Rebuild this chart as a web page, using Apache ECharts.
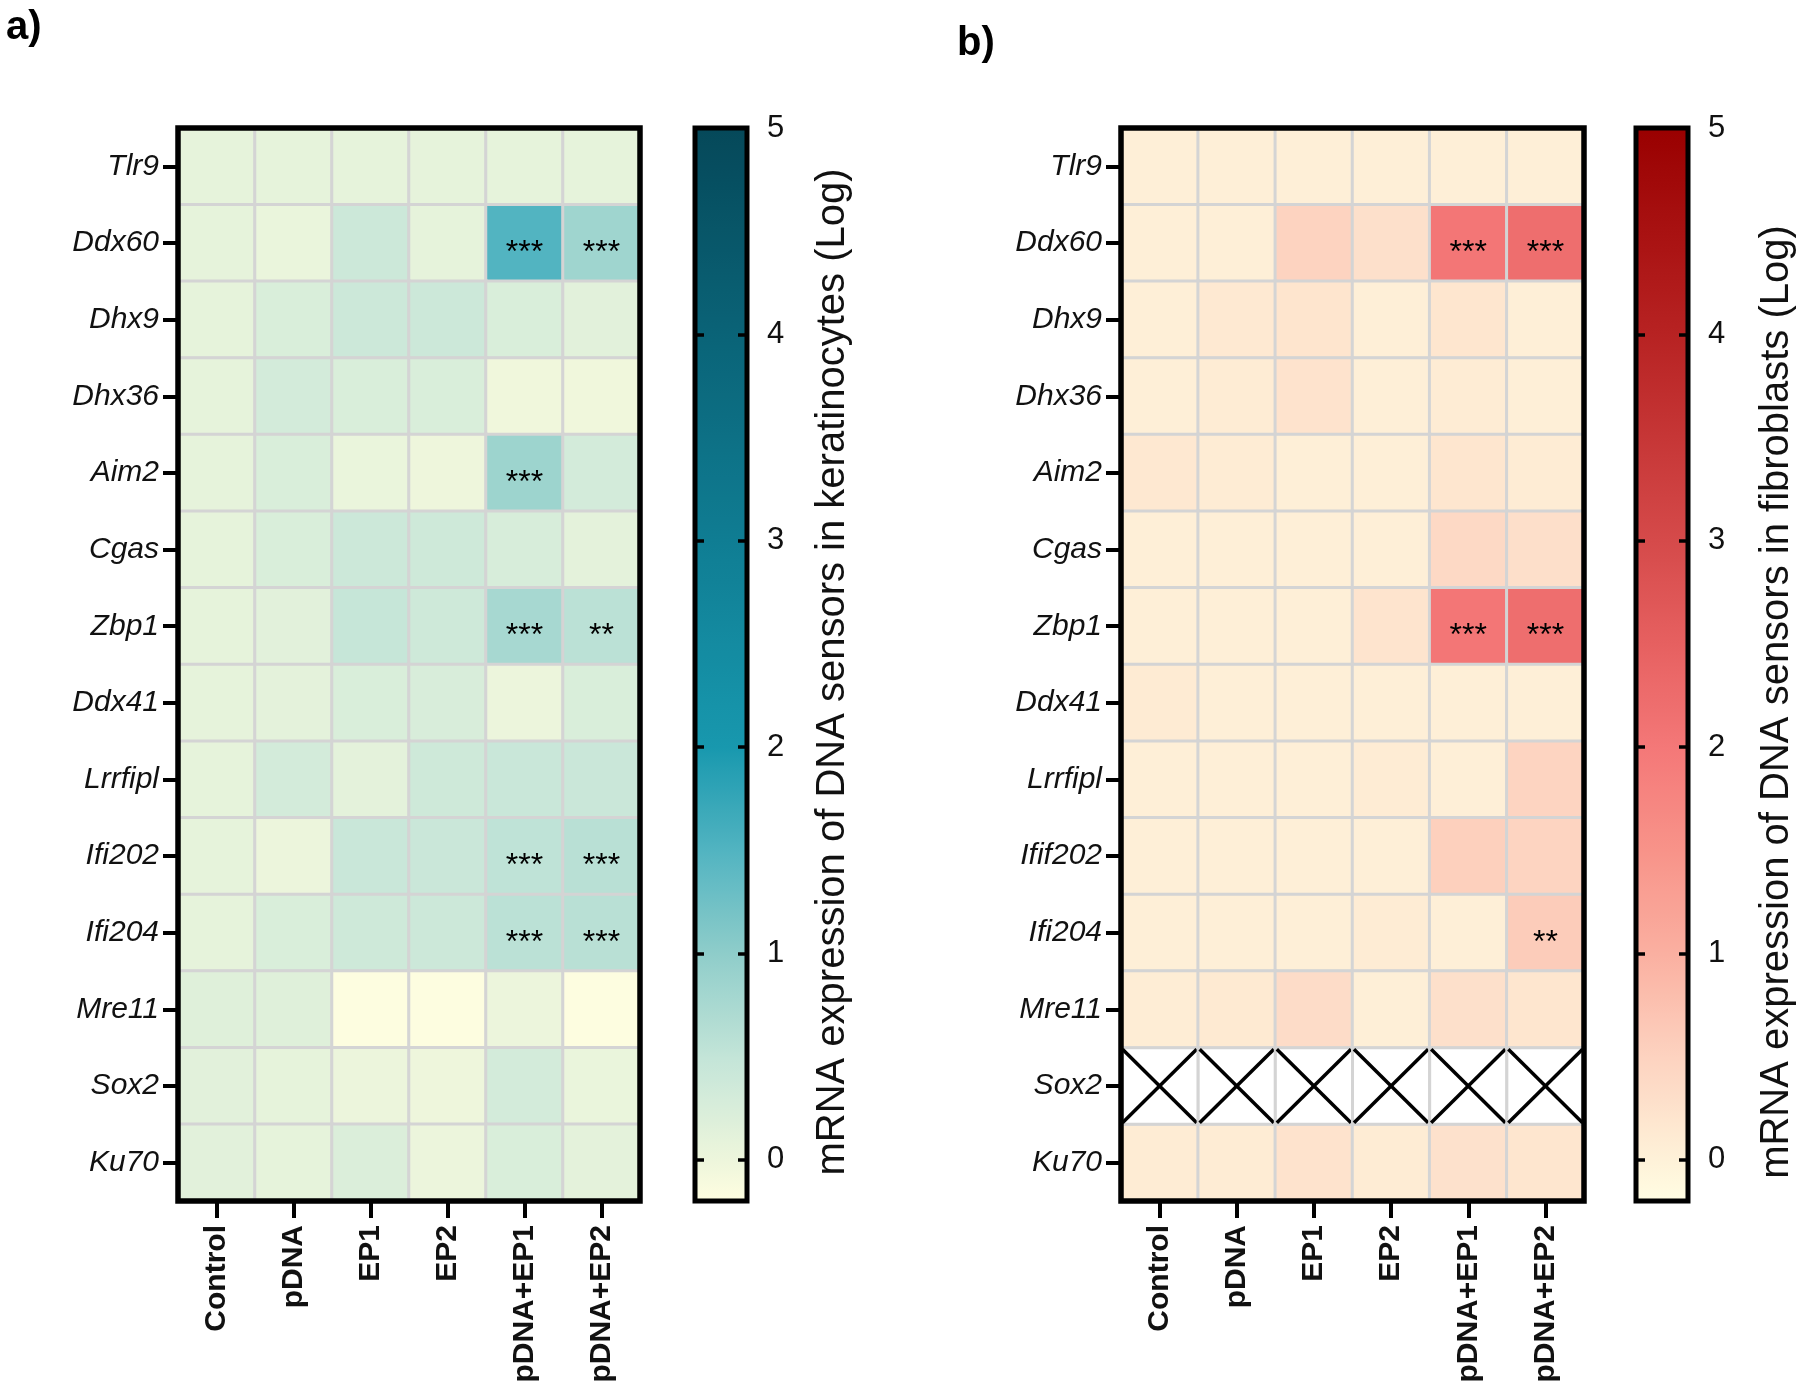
<!DOCTYPE html>
<html>
<head>
<meta charset="utf-8">
<script src="https://cdn.jsdelivr.net/npm/echarts@6/dist/echarts.min.js"></script>
<style>
  html, body { margin: 0; padding: 0; background: #fff; }
  #chart { width: 1800px; height: 1396px; }
</style>
</head>
<body>
<div id="chart"></div>
<script>
// genes (rows, top to bottom) and treatment groups (columns)
const genesA = ['Tlr9', 'Ddx60', 'Dhx9', 'Dhx36', 'Aim2', 'Cgas', 'Zbp1', 'Ddx41', 'Lrrfipl', 'Ifi202', 'Ifi204', 'Mre11', 'Sox2', 'Ku70'];
const genesB = ['Tlr9', 'Ddx60', 'Dhx9', 'Dhx36', 'Aim2', 'Cgas', 'Zbp1', 'Ddx41', 'Lrrfipl', 'Ifif202', 'Ifi204', 'Mre11', 'Sox2', 'Ku70'];
const groups = ['Control', 'pDNA', 'EP1', 'EP2', 'pDNA+EP1', 'pDNA+EP2'];

// mRNA expression (Log), one row per gene
const keratinocytes = [
  [0.1, 0.1, 0.1, 0.1, 0.1, 0.1],
  [0.1, 0.05, 0.4, 0.1, 1.5, 0.85],
  [0.1, 0.25, 0.4, 0.4, 0.25, 0.15],
  [0.1, 0.32, 0.25, 0.25, -0.02, -0.02],
  [0.1, 0.25, 0.05, 0.0, 0.87, 0.32],
  [0.1, 0.25, 0.4, 0.38, 0.28, 0.12],
  [0.1, 0.15, 0.48, 0.38, 0.77, 0.58],
  [0.1, 0.12, 0.25, 0.26, 0.02, 0.25],
  [0.1, 0.32, 0.12, 0.38, 0.44, 0.43],
  [0.1, 0.02, 0.44, 0.43, 0.55, 0.6],
  [0.1, 0.25, 0.38, 0.4, 0.58, 0.6],
  [0.18, 0.18, -0.18, -0.18, 0.02, -0.18],
  [0.15, 0.1, 0.03, 0.0, 0.32, 0.05],
  [0.15, 0.1, 0.22, 0.03, 0.25, 0.12]
];
const fibroblasts = [
  [0.05, 0.05, 0.05, 0.05, 0.05, 0.05],
  [0.05, 0.05, 0.5, 0.28, 2.05, 2.2],
  [0.05, 0.15, 0.22, 0.05, 0.2, 0.05],
  [0.05, 0.1, 0.25, 0.05, 0.1, 0.05],
  [0.17, 0.1, 0.05, 0.05, 0.2, 0.1],
  [0.05, 0.05, 0.05, 0.05, 0.4, 0.3],
  [0.05, 0.05, 0.05, 0.23, 2.05, 2.2],
  [0.12, 0.05, 0.05, 0.05, 0.05, 0.05],
  [0.05, 0.05, 0.05, 0.1, 0.05, 0.48],
  [0.05, 0.05, 0.05, 0.05, 0.55, 0.48],
  [0.05, 0.05, 0.05, 0.1, 0.05, 0.6],
  [0.08, 0.14, 0.35, 0.05, 0.28, 0.2],
  [null, null, null, null, null, null],
  [0.1, 0.1, 0.25, 0.1, 0.27, 0.2]
];

// significance marks: [gene row, group column, mark]
const starsA = [[1, 4, '***'], [1, 5, '***'], [4, 4, '***'], [6, 4, '***'], [6, 5, '**'],
                [9, 4, '***'], [9, 5, '***'], [10, 4, '***'], [10, 5, '***']];
const starsB = [[1, 4, '***'], [1, 5, '***'], [6, 4, '***'], [6, 5, '***'], [10, 5, '**']];

const scaleMin = -0.2, scaleMax = 5;
const scaleTicks = [0, 1, 2, 3, 4, 5];

// colour anchors [value, colour]
const tealStops = [[-0.2, '#fffee0'], [0, '#eef6dc'], [0.5, '#c4e5d8'], [1, '#8fcdca'], [1.5, '#52b4c1'],
                   [2, '#1898ae'], [3, '#0f7d93'], [4, '#0a6377'], [5, '#054859']];
const redStops = [[-0.2, '#fffde3'], [0, '#fef2d9'], [0.5, '#fdd3c0'], [1, '#fab0a1'], [1.5, '#f89389'],
                  [2, '#f47878'], [2.5, '#e66060'], [3, '#d54a4a'], [4, '#b72222'], [5, '#990000']];

const FONT = 'Liberation Sans, Arial, sans-serif';

function hexRgb(h) { return [1, 3, 5].map(i => parseInt(h.slice(i, i + 2), 16)); }
function colorAt(stops, v) {
  for (let i = 1; i < stops.length; i++) {
    if (v <= stops[i][0]) {
      const t = (v - stops[i - 1][0]) / (stops[i][0] - stops[i - 1][0]);
      const a = hexRgb(stops[i - 1][1]), b = hexRgb(stops[i][1]);
      return 'rgb(' + a.map((x, k) => Math.round(x + (b[k] - x) * t)).join(',') + ')';
    }
  }
  return stops[stops.length - 1][1];
}
// evenly spaced colour list for visualMap / colour bar
function colorList(stops) {
  const n = 53, out = [];
  for (let k = 0; k < n; k++) out.push(colorAt(stops, scaleMin + k * (scaleMax - scaleMin) / (n - 1)));
  return out;
}
function barGradient(list) {
  return {
    type: 'linear', x: 0, y: 0, x2: 0, y2: 1,
    colorStops: list.slice().reverse().map((c, k) => ({ offset: k / (list.length - 1), color: c }))
  };
}

function cells(rows, stars) {
  const marks = {};
  stars.forEach(s => { marks[s[0] + '_' + s[1]] = s[2]; });
  const out = [];
  rows.forEach((row, r) => row.forEach((v, c) => {
    if (v !== null) out.push({ value: [c, r, v], mark: marks[r + '_' + c] || '' });
  }));
  return out;
}

const tealList = colorList(tealStops);
const redList = colorList(redStops);

function heatAxes(gridIndex, genes) {
  return {
    x: {
      type: 'category', gridIndex: gridIndex, data: groups,
      axisLine: { show: false },
      axisTick: { show: true, alignWithLabel: true, length: 17, lineStyle: { color: '#000', width: 4 } },
      axisLabel: { rotate: 90, margin: 24, fontSize: 30, fontWeight: 'bold', color: '#111', fontFamily: FONT },
      splitLine: { show: false }, z: 12
    },
    y: {
      type: 'category', gridIndex: gridIndex, data: genes, inverse: true,
      axisLine: { show: false },
      axisTick: { show: true, alignWithLabel: true, length: 15, lineStyle: { color: '#000', width: 4 } },
      axisLabel: { margin: 19, fontSize: 30, fontStyle: 'italic', color: '#111', fontFamily: FONT },
      splitLine: { show: false }, z: 12
    }
  };
}

function barAxes(gridIndex) {
  const tick = { show: true, inside: true, length: 9, customValues: scaleTicks, lineStyle: { color: '#000', width: 3.5 } };
  return {
    x: { type: 'value', gridIndex: gridIndex, show: false, min: 0, max: 1 },
    y: [
      { type: 'value', gridIndex: gridIndex, position: 'right', min: scaleMin, max: scaleMax,
        axisLine: { show: false, onZero: false }, axisTick: tick, splitLine: { show: false },
        axisLabel: { margin: 20, fontSize: 31, color: '#111', fontFamily: FONT, customValues: scaleTicks }, z: 12 },
      { type: 'value', gridIndex: gridIndex, position: 'left', min: scaleMin, max: scaleMax,
        axisLine: { show: false, onZero: false }, axisTick: tick, splitLine: { show: false },
        axisLabel: { show: false }, z: 12 }
    ]
  };
}

const hA = heatAxes(0, genesA), hB = heatAxes(1, genesB);
const bA = barAxes(2), bB = barAxes(3);

const heatLabel = {
  show: true, fontSize: 32, color: '#000', fontFamily: FONT, offset: [0, 10],
  formatter: p => p.data.mark
};

const option = {
  backgroundColor: '#fff',
  animation: false,
  grid: [
    { left: 178, top: 128, width: 462, height: 1073, show: true, backgroundColor: 'transparent',
      borderColor: '#000', borderWidth: 5.5, z: 10 },
    { left: 1121, top: 128, width: 463, height: 1073, show: true, backgroundColor: 'transparent',
      borderColor: '#000', borderWidth: 5.5, z: 10 },
    { left: 695, top: 128, width: 52, height: 1073, show: true, backgroundColor: barGradient(tealList),
      borderColor: '#000', borderWidth: 5 },
    { left: 1636, top: 128, width: 52, height: 1073, show: true, backgroundColor: barGradient(redList),
      borderColor: '#000', borderWidth: 5 }
  ],
  xAxis: [hA.x, hB.x, bA.x, bB.x],
  yAxis: [hA.y, hB.y, bA.y[0], bA.y[1], bB.y[0], bB.y[1]],
  visualMap: [
    { type: 'continuous', show: false, seriesIndex: 0, dimension: 2, min: scaleMin, max: scaleMax,
      inRange: { color: tealList } },
    { type: 'continuous', show: false, seriesIndex: 1, dimension: 2, min: scaleMin, max: scaleMax,
      inRange: { color: redList } }
  ],
  series: [
    {
      type: 'heatmap', xAxisIndex: 0, yAxisIndex: 0, data: cells(keratinocytes, starsA),
      itemStyle: { borderColor: '#d4d4d4', borderWidth: 3 },
      label: heatLabel, emphasis: { disabled: true }
    },
    {
      type: 'heatmap', xAxisIndex: 1, yAxisIndex: 1, data: cells(fibroblasts, starsB),
      itemStyle: { borderColor: '#d4d4d4', borderWidth: 3 },
      label: heatLabel, emphasis: { disabled: true }
    },
    {
      // not determined cells: crossed out
      type: 'custom', xAxisIndex: 1, yAxisIndex: 1, z: 3,
      data: (() => {
        const out = [];
        fibroblasts.forEach((row, r) => row.forEach((v, c) => { if (v === null) out.push([c, r]); }));
        return out;
      })(),
      renderItem: (params, api) => {
        const c = api.coord([api.value(0), api.value(1)]);
        const s = api.size([1, 1]);
        const x0 = c[0] - s[0] / 2, y0 = c[1] - s[1] / 2;
        const line = { stroke: '#000', lineWidth: 3.5 };
        return {
          type: 'group',
          children: [
            { type: 'rect', shape: { x: x0, y: y0, width: s[0], height: s[1] },
              style: { fill: '#fff', stroke: '#d4d4d4', lineWidth: 3 } },
            { type: 'line', shape: { x1: x0 + 1.5, y1: y0 + 1.5, x2: x0 + s[0] - 1.5, y2: y0 + s[1] - 1.5 }, style: line },
            { type: 'line', shape: { x1: x0 + s[0] - 1.5, y1: y0 + 1.5, x2: x0 + 1.5, y2: y0 + s[1] - 1.5 }, style: line }
          ]
        };
      }
    }
  ],
  graphic: [
    { type: 'text', left: 6, top: 8, style: { text: 'a)', fontSize: 40, fontWeight: 'bold', fill: '#000', fontFamily: FONT } },
    { type: 'text', left: 957, top: 24, style: { text: 'b)', fontSize: 40, fontWeight: 'bold', fill: '#000', fontFamily: FONT } },
    { type: 'text', x: 833, y: 672, rotation: Math.PI / 2,
      style: { text: 'mRNA expression of DNA sensors in keratinocytes (Log)', fontSize: 40, fill: '#111',
               fontFamily: FONT, align: 'center', verticalAlign: 'middle' } },
    { type: 'text', x: 1777, y: 702, rotation: Math.PI / 2,
      style: { text: 'mRNA expression of DNA sensors in fibroblasts (Log)', fontSize: 40, fill: '#111',
               fontFamily: FONT, align: 'center', verticalAlign: 'middle' } }
  ]
};

const chart = echarts.init(document.getElementById('chart'));
chart.setOption(option);
</script>
</body>
</html>
